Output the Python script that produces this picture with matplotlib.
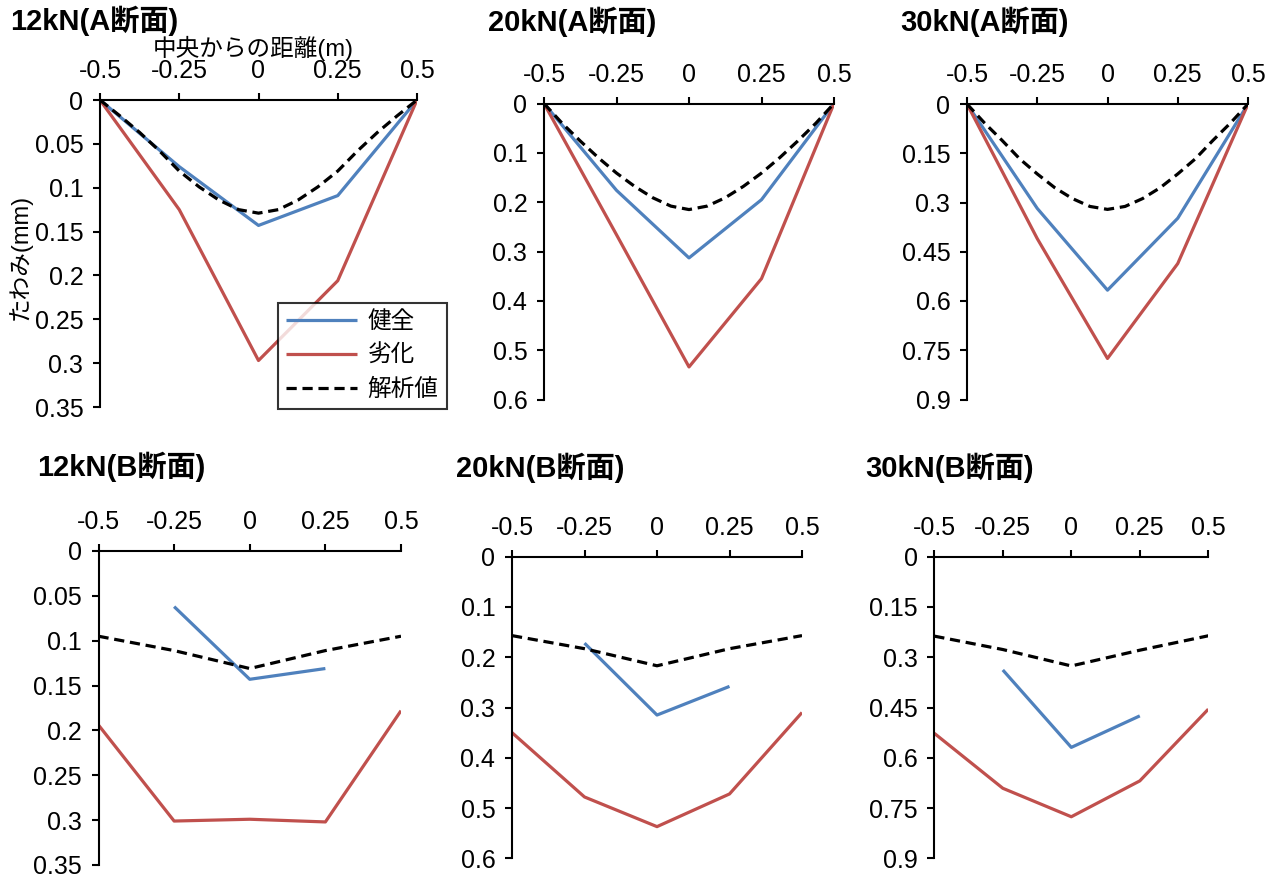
import numpy as np
import matplotlib
matplotlib.use('Agg')
import matplotlib.pyplot as plt

plt.rcParams['font.family'] = ['Liberation Sans', 'Noto Sans CJK JP', 'DejaVu Sans']
plt.rcParams['axes.unicode_minus'] = False

nan = np.nan
x5 = [-0.5, -0.25, 0, 0.25, 0.5]
x17 = [-0.5, -0.4375, -0.375, -0.3125, -0.25, -0.1875, -0.125, -0.0625, 0,
       0.0625, 0.125, 0.1875, 0.25, 0.3125, 0.375, 0.4375, 0.5]
xticks = [-0.5, -0.25, 0, 0.25, 0.5]

# A断面
kenzen_A_12 = [0, 0.076, 0.143, 0.109, 0]
rekka_A_12 = [0, 0.125, 0.297, 0.206, 0]
kaiseki_A_12 = [0, 0.018, 0.037, 0.058, 0.081, 0.099, 0.114, 0.125, 0.129,
                0.125, 0.114, 0.099, 0.081, 0.058, 0.037, 0.018, 0]
kenzen_A_20 = [0, 0.176, 0.313, 0.195, 0]
rekka_A_20 = [0, 0.266, 0.534, 0.355, 0]
kaiseki_A_20 = [0, 0.040, 0.076, 0.110, 0.141, 0.168, 0.191, 0.208, 0.215,
                0.208, 0.191, 0.168, 0.141, 0.110, 0.076, 0.040, 0]
kenzen_A_30 = [0, 0.318, 0.567, 0.348, 0]
rekka_A_30 = [0, 0.41, 0.775, 0.486, 0]
kaiseki_A_30 = [0, 0.058, 0.111, 0.167, 0.213, 0.255, 0.288, 0.312, 0.321,
                0.312, 0.288, 0.255, 0.213, 0.167, 0.111, 0.058, 0]

# B断面
kenzen_B_12 = [nan, 0.062, 0.143, 0.131, nan]
rekka_B_12 = [0.194, 0.301, 0.299, 0.302, 0.178]
kaiseki_B_12 = [0.095, 0.111, 0.131, 0.111, 0.095]
kenzen_B_20 = [nan, 0.172, 0.315, 0.258, nan]
rekka_B_20 = [0.35, 0.478, 0.537, 0.472, 0.31]
kaiseki_B_20 = [0.157, 0.183, 0.217, 0.183, 0.157]
kenzen_B_30 = [nan, 0.338, 0.569, 0.475, nan]
rekka_B_30 = [0.527, 0.691, 0.776, 0.669, 0.455]
kaiseki_B_30 = [0.237, 0.277, 0.326, 0.279, 0.236]

yt_12 = [0, 0.05, 0.1, 0.15, 0.2, 0.25, 0.3, 0.35]
yt_20 = [0, 0.1, 0.2, 0.3, 0.4, 0.5, 0.6]
yt_30 = [0, 0.15, 0.3, 0.45, 0.6, 0.75, 0.9]

W, H = 1277, 876
fig = plt.figure(figsize=(W / 100, H / 100), dpi=100)

def px_axes(l, t, r, b):
    return fig.add_axes([l / W, 1 - b / H, (r - l) / W, (b - t) / H])

panels = [
    ((100, 100, 417, 407), '12kN(A断面)', (10, 21), x17, kenzen_A_12, rekka_A_12, kaiseki_A_12, yt_12),
    ((544, 103.5, 834, 399.5), '20kN(A断面)', (488, 22), x17, kenzen_A_20, rekka_A_20, kaiseki_A_20, yt_20),
    ((967, 104, 1248, 399.5), '30kN(A断面)', (900, 22), x17, kenzen_A_30, rekka_A_30, kaiseki_A_30, yt_30),
    ((98.5, 551, 401, 865), '12kN(B断面)', (37, 467), x5, kenzen_B_12, rekka_B_12, kaiseki_B_12, yt_12),
    ((512, 556.7, 802, 858.3), '20kN(B断面)', (456, 468), x5, kenzen_B_20, rekka_B_20, kaiseki_B_20, yt_20),
    ((934.3, 556.7, 1208.3, 858.3), '30kN(B断面)', (865, 468), x5, kenzen_B_30, rekka_B_30, kaiseki_B_30, yt_30),
]

blue = '#4F81BD'
red = '#C0504D'

for i, (box, title, tpos, xk, ken, rek, kai, yt) in enumerate(panels):
    ax = px_axes(*box)
    l1, = ax.plot(x5, ken, color=blue, lw=2.3, label='健全', solid_capstyle='butt')
    l2, = ax.plot(x5, rek, color=red, lw=2.3, label='劣化', solid_capstyle='butt')
    l3, = ax.plot(xk, kai, color='black', lw=2.3, ls=(0, (3.2, 1.8)), label='解析値')
    ax.set_xlim(-0.5, 0.5)
    ax.set_ylim(yt[-1], 0)
    ax.set_xticks(xticks)
    ax.set_xticklabels(['%g' % v for v in xticks])
    ax.set_yticks(yt)
    ax.set_yticklabels(['%g' % v for v in yt])
    ax.xaxis.tick_top()
    ax.spines['right'].set_visible(False)
    ax.spines['bottom'].set_visible(False)
    ax.spines['left'].set_linewidth(1.5)
    ax.spines['top'].set_linewidth(1.5)
    ax.tick_params(axis='both', direction='out', length=5, width=1.5, labelsize=18, pad=7)
    ax.patch.set_alpha(0)
    fig.text(tpos[0] / W, 1 - tpos[1] / H, title, fontsize=21, fontweight='bold',
             ha='left', va='center')
    if i == 0:
        leg = ax.legend(handles=[l1, l2, l3], loc='upper left',
                        bbox_to_anchor=(278 / W, 1 - 303 / H), bbox_transform=fig.transFigure,
                        fontsize=17, frameon=True, fancybox=False, handlelength=3.0,
                        borderpad=0.35, labelspacing=0.5, handletextpad=0.45,
                        borderaxespad=0)
        leg.get_frame().set_edgecolor('black')
        leg.get_frame().set_linewidth(1.5)

fig.text(253 / W, 1 - 48 / H, '中央からの距離(m)', fontsize=17, ha='center', va='center')
fig.text(20 / W, 1 - 257 / H, 'たわみ(mm)', fontsize=17, rotation=90, ha='center', va='center')

fig.savefig('out.png', dpi=100)
